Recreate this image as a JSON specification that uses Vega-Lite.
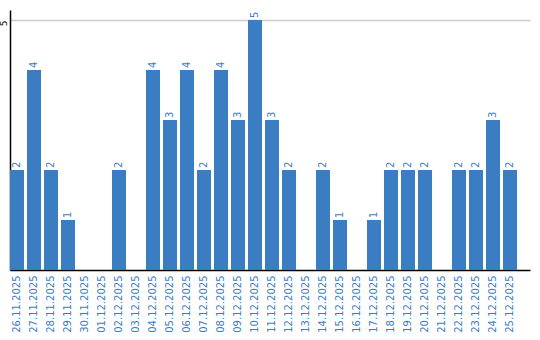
{
  "$schema": "https://vega.github.io/schema/vega-lite/v6.json",
  "width": 520,
  "height": 260,
  "autosize": {"type": "none"},
  "padding": {"left": 10, "top": 10, "right": 10, "bottom": 70},
  "background": "white",
  "config": {"view": {"stroke": null}, "font": "DejaVu Sans"},
  "data": {"values": [
    {"date": "26.11.2025", "value": 2},
    {"date": "27.11.2025", "value": 4},
    {"date": "28.11.2025", "value": 2},
    {"date": "29.11.2025", "value": 1},
    {"date": "30.11.2025", "value": 0},
    {"date": "01.12.2025", "value": 0},
    {"date": "02.12.2025", "value": 2},
    {"date": "03.12.2025", "value": 0},
    {"date": "04.12.2025", "value": 4},
    {"date": "05.12.2025", "value": 3},
    {"date": "06.12.2025", "value": 4},
    {"date": "07.12.2025", "value": 2},
    {"date": "08.12.2025", "value": 4},
    {"date": "09.12.2025", "value": 3},
    {"date": "10.12.2025", "value": 5},
    {"date": "11.12.2025", "value": 3},
    {"date": "12.12.2025", "value": 2},
    {"date": "13.12.2025", "value": 0},
    {"date": "14.12.2025", "value": 2},
    {"date": "15.12.2025", "value": 1},
    {"date": "16.12.2025", "value": 0},
    {"date": "17.12.2025", "value": 1},
    {"date": "18.12.2025", "value": 2},
    {"date": "19.12.2025", "value": 2},
    {"date": "20.12.2025", "value": 2},
    {"date": "21.12.2025", "value": 0},
    {"date": "22.12.2025", "value": 2},
    {"date": "23.12.2025", "value": 2},
    {"date": "24.12.2025", "value": 3},
    {"date": "25.12.2025", "value": 2}
  ]},
  "encoding": {
    "x": {
      "field": "date", "type": "ordinal", "sort": null,
      "scale": {"paddingInner": 0.176, "paddingOuter": 0.382, "align": 0},
      "axis": {
        "title": null, "labelAngle": -90, "labelColor": "#3a7dc4", "labelFontSize": 10,
        "ticks": false, "labelPadding": 5, "domainColor": "#000000", "domainWidth": 1.5
      }
    },
    "y": {
      "field": "value", "type": "quantitative",
      "scale": {"domain": [0, 5.2], "nice": false},
      "axis": {
        "title": null, "values": [5], "labelAngle": -90, "labelAlign": "right", "labelBaseline": "bottom",
        "labelFontSize": 9, "labelColor": "#000000", "ticks": false, "labelPadding": 2,
        "domainColor": "#000000", "domainWidth": 1.5, "gridColor": "#cccccc", "gridWidth": 1.5
      }
    }
  },
  "layer": [
    {"mark": {"type": "bar", "color": "#3b7dc3"}},
    {
      "transform": [{"filter": "datum.value > 0"}],
      "mark": {"type": "text", "angle": -90, "align": "left", "baseline": "middle", "dx": 2, "fontSize": 10, "color": "#3b7dc3"},
      "encoding": {"text": {"field": "value", "type": "quantitative"}}
    }
  ]
}
